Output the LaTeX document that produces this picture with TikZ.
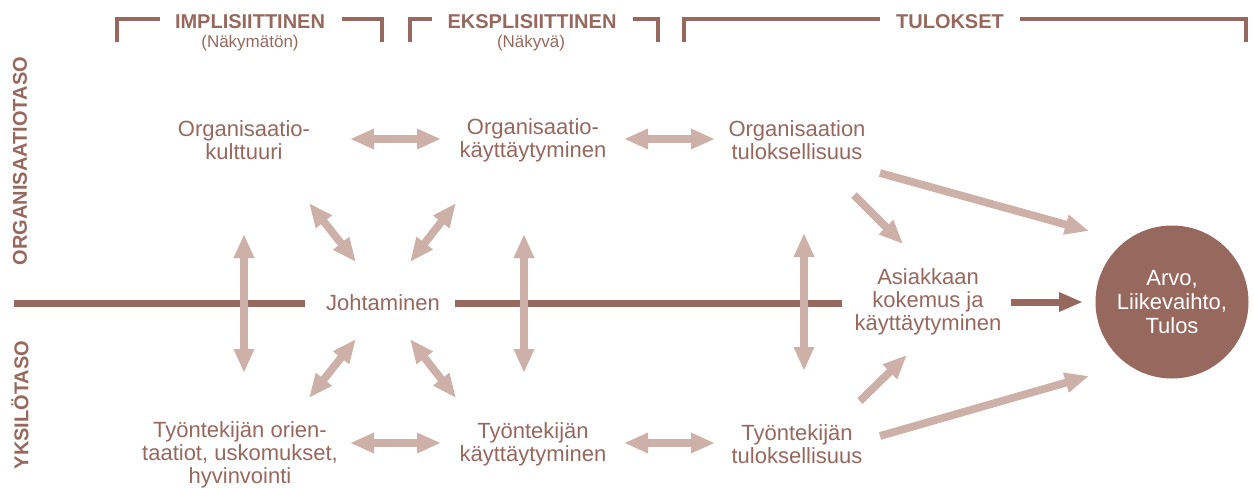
\documentclass[tikz,border=0pt]{standalone}
\usepackage{fontspec}
\setmainfont{Liberation Sans}
\usetikzlibrary{arrows.meta}
\definecolor{darkc}{RGB}{150,104,94}
\definecolor{lightc}{RGB}{205,176,167}
\begin{document}
\begin{tikzpicture}[x=0.5pt,y=-0.5pt,
  txt/.style={text=darkc, align=center, font=\fontsize{11}{11.5}\selectfont, inner sep=0pt},
  hdr/.style={text=darkc, font=\fontsize{10}{12}\selectfont\bfseries, inner sep=0pt},
  sub/.style={text=darkc, font=\fontsize{8.5}{10}\selectfont, inner sep=0pt},
  side/.style={text=darkc, font=\fontsize{10}{12}\selectfont\bfseries, inner sep=0pt, rotate=90},
  brk/.style={draw=darkc, line width=2pt, line cap=butt, line join=miter},
  mainline/.style={draw=darkc, line width=3.5pt},
  ltip/.tip={Triangle[width=9.5pt,length=12pt]},
  dtip/.tip={Triangle[width=9pt,length=12pt]},
  dbl/.style={draw=lightc, line width=3.9pt, ltip-ltip},
  sgl/.style={draw=lightc, line width=3.9pt, -ltip},
  darr/.style={draw=darkc, line width=3.5pt, -dtip},
]
\useasboundingbox (0,0) rectangle (1254,488);

% headers
\node[hdr] (h1) at (250,22) {IMPLISIITTINEN};
\node[sub] (s1) at (250,43) {(Näkymätön)};
\node[hdr] (h2) at (532,22) {EKSPLISIITTINEN};
\node[sub] (s2) at (531,43) {(Näkyvä)};
\node[hdr] (h3) at (950,22) {TULOKSET};
\draw[brk] (117,42) -- (117,19) -- (160,19);
\draw[brk] (342,19) -- (382,19) -- (382,42);
\draw[brk] (410,42) -- (410,19) -- (432,19);
\draw[brk] (633,19) -- (658,19) -- (658,42);
\draw[brk] (684,42) -- (684,19) -- (880,19);
\draw[brk] (1020,19) -- (1246,19) -- (1246,42);

% side labels
\node[side] (lorg) at (20,161) {ORGANISAATIOTASO};
\node[side] (lyks) at (20,405) {YKSILÖTASO};

% nodes
\node[txt] (ok) at (244,140) {Organisaatio-\\kulttuuri};
\node[txt] (oka) at (533,140) {Organisaatio-\\käyttäytyminen};
\node[txt] (ot) at (797,140) {Organisaation\\tuloksellisuus};
\node[txt] (jo) at (383,303) {Johtaminen};
\node[txt] (as) at (928,302) {Asiakkaan\\kokemus ja\\käyttäytyminen};
\node[txt] (to) at (240,455) {Työntekijän orien-\\taatiot, uskomukset,\\hyvinvointi};
\node[txt] (tk) at (533,444) {Työntekijän\\käyttäytyminen};
\node[txt] (tt) at (797,444) {Työntekijän\\tuloksellisuus};
\node[circle, fill=darkc, minimum size=153pt*0.5, inner sep=0pt, text=white, align=center,
      font=\fontsize{11}{12}\selectfont] (ar) at (1172,302) {Arvo,\\Liikevaihto,\\Tulos};

% main horizontal line
\coordinate (m0) at (14,303);
\coordinate (m1) at (305,303);
\coordinate (m2) at (455,303);
\coordinate (m3) at (842,303);
\draw[mainline] (m0) -- (m1);
\draw[mainline] (m2) -- (m3);

% vertical arrows
\coordinate (v1a) at (244,234); \coordinate (v1b) at (244,373);
\coordinate (v2a) at (524,234); \coordinate (v2b) at (524,373);
\coordinate (v3a) at (804,233); \coordinate (v3b) at (804,371);
\draw[dbl] (v1a) -- (v1b);
\draw[dbl] (v2a) -- (v2b);
\draw[dbl] (v3a) -- (v3b);

% horizontal double arrows
\coordinate (a1) at (350,139); \coordinate (a2) at (441,139);
\coordinate (a3) at (624,139); \coordinate (a4) at (715,139);
\coordinate (b1) at (350,443); \coordinate (b2) at (441,443);
\coordinate (b3) at (624,443); \coordinate (b4) at (715,443);
\draw[dbl] (a1) -- (a2);
\draw[dbl] (a3) -- (a4);
\draw[dbl] (b1) -- (b2);
\draw[dbl] (b3) -- (b4);

% diagonal arrows around Johtaminen
\coordinate (d1a) at (309,203); \coordinate (d1b) at (356,262);
\coordinate (d2a) at (410,262); \coordinate (d2b) at (456,203);
\coordinate (d3a) at (356,339); \coordinate (d3b) at (309,398);
\coordinate (d4a) at (410,339); \coordinate (d4b) at (456,398);
\draw[dbl] (d1a) -- (d1b);
\draw[dbl] (d2a) -- (d2b);
\draw[dbl] (d3a) -- (d3b);
\draw[dbl] (d4a) -- (d4b);

% right side arrows
\coordinate (r1a) at (880,173); \coordinate (r1b) at (1089,231);
\coordinate (r2a) at (854,195); \coordinate (r2b) at (903,244);
\coordinate (r3a) at (860,401); \coordinate (r3b) at (907,355);
\coordinate (r4a) at (880,436); \coordinate (r4b) at (1089,376);
\draw[sgl] (r1a) -- (r1b);
\draw[sgl] (r2a) -- (r2b);
\draw[sgl] (r3a) -- (r3b);
\draw[sgl] (r4a) -- (r4b);

% dark arrow to circle
\coordinate (c1) at (1011,302); \coordinate (c2) at (1083,302);
\draw[darr] (c1) -- (c2);
\end{tikzpicture}
\end{document}
